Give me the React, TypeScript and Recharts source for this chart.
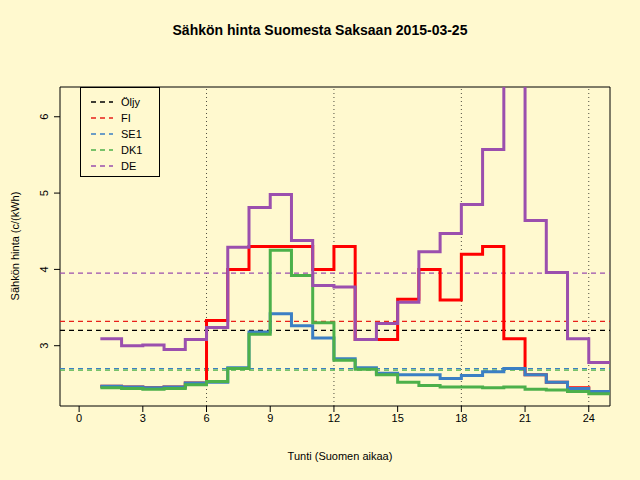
import {
  ComposedChart,
  Line,
  ReferenceArea,
  ReferenceLine,
  XAxis,
  YAxis,
} from 'recharts';

const hours = [1, 2, 3, 4, 5, 6, 7, 8, 9, 10, 11, 12, 13, 14, 15, 16, 17, 18, 19, 20, 21, 22, 23, 24, 25];
const fi = [2.47, 2.46, 2.45, 2.46, 2.51, 3.33, 4.0, 4.3, 4.3, 4.3, 4.0, 4.3, 3.08, 3.08, 3.61, 4.0, 3.6, 4.2, 4.3, 3.09, 2.62, 2.52, 2.45, 2.4, 2.4];
const se1 = [2.47, 2.46, 2.45, 2.46, 2.51, 2.52, 2.71, 3.18, 3.42, 3.26, 3.1, 2.83, 2.71, 2.64, 2.62, 2.62, 2.57, 2.61, 2.66, 2.7, 2.62, 2.52, 2.44, 2.4, 2.4];
const dk1 = [2.45, 2.44, 2.43, 2.44, 2.49, 2.53, 2.7, 3.15, 4.25, 3.92, 3.3, 2.81, 2.69, 2.62, 2.52, 2.48, 2.46, 2.46, 2.45, 2.46, 2.43, 2.42, 2.4, 2.37, 2.37];
const de = [3.09, 3.0, 3.01, 2.95, 3.08, 3.24, 4.29, 4.81, 4.98, 4.38, 3.79, 3.77, 3.08, 3.29, 3.57, 4.23, 4.47, 4.85, 5.57, 6.58, 4.64, 3.96, 3.09, 2.78, 2.78];

const xTicks = [0, 3, 6, 9, 12, 15, 18, 21, 24];
const yTicks = [3, 4, 5, 6];
const dayLines = [6, 12, 18, 24];

const averages = [
  { name: 'Öljy', value: 3.2, color: '#000000' },
  { name: 'FI', value: 3.32, color: '#e8201a' },
  { name: 'SE1', value: 2.7, color: '#3b7fc4' },
  { name: 'DK1', value: 2.68, color: '#4cb04a' },
  { name: 'DE', value: 3.95, color: '#9b4fae' },
];

const data = hours.map((h, i) => ({ h, fi: fi[i], se1: se1[i], dk1: dk1[i], de: de[i] }));

const FONT = '"Liberation Sans", Arial, sans-serif';
const BG = '#fff9cf';

function YTick({ x, y, payload }: any) {
  return (
    <text x={x - 4} y={y} transform={`rotate(-90 ${x - 4} ${y})`} textAnchor="middle" fontSize={11} fontFamily={FONT} fill="#000">
      {payload.value}
    </text>
  );
}

export default function App() {
  return (
    <div style={{ position: 'absolute', left: 0, top: 0, width: 640, height: 480, background: BG, fontFamily: FONT }}>
      <div style={{ position: 'absolute', top: 22, width: 640, textAlign: 'center', fontWeight: 'bold', fontSize: 14 }}>
        Sähkön hinta Suomesta Saksaan 2015-03-25
      </div>
      <ComposedChart width={640} height={480} data={data} margin={{ top: 87, right: 30, bottom: 0, left: 0 }}>
        <XAxis
          dataKey="h"
          type="number"
          domain={[-0.9, 25]}
          allowDataOverflow
          ticks={xTicks}
          interval={0}
          axisLine={false}
          tickLine={{ stroke: '#000' }}
          tickSize={6}
          tick={{ fill: '#000', fontSize: 11, fontFamily: FONT }}
          height={74}
        />
        <YAxis
          type="number"
          domain={[2.21, 6.39]}
          allowDataOverflow
          ticks={yTicks}
          axisLine={false}
          tickLine={{ stroke: '#000' }}
          tickSize={6}
          tick={<YTick />}
          width={60}
        />
        <ReferenceArea x1={-0.9} x2={25} y1={2.21} y2={6.39} fill="none" stroke="#000" ifOverflow="visible" />
        {dayLines.map((d) => (
          <ReferenceLine key={d} x={d} stroke="#000" strokeWidth={0.7} strokeDasharray="1 3" />
        ))}
        {averages.map((a) => (
          <ReferenceLine key={a.name} y={a.value} stroke={a.color} strokeWidth={1.2} strokeDasharray="5 4" />
        ))}
        <Line dataKey="fi" type="stepAfter" stroke="#ff0000" strokeWidth={3} dot={false} isAnimationActive={false} />
        <Line dataKey="se1" type="stepAfter" stroke={averages[2].color} strokeWidth={3} dot={false} isAnimationActive={false} />
        <Line dataKey="dk1" type="stepAfter" stroke={averages[3].color} strokeWidth={3} dot={false} isAnimationActive={false} />
        <Line dataKey="de" type="stepAfter" stroke={averages[4].color} strokeWidth={3} dot={false} isAnimationActive={false} />
      </ComposedChart>
      <div style={{ position: 'absolute', left: 80, top: 87, width: 80, height: 90, border: '1px solid #000', boxSizing: 'border-box', background: BG, padding: '6px 0 0 8px', fontSize: 11 }}>
        {averages.map((a) => (
          <div key={a.name} style={{ display: 'flex', alignItems: 'center', height: 16 }}>
            <svg width={24} height={4} style={{ marginRight: 8 }}>
              <line x1={2} y1={2} x2={24} y2={2} stroke={a.color} strokeWidth={1.5} strokeDasharray="5 4" />
            </svg>
            {a.name}
          </div>
        ))}
      </div>
      <div style={{ position: 'absolute', top: 450, width: 640, paddingLeft: 40, boxSizing: 'border-box', textAlign: 'center', fontSize: 11 }}>
        Tunti (Suomen aikaa)
      </div>
      <div style={{ position: 'absolute', left: 15, top: 246, transform: 'translate(-50%, -50%) rotate(-90deg)', whiteSpace: 'nowrap', fontSize: 11 }}>
        Sähkön hinta (c/(kWh)
      </div>
    </div>
  );
}
